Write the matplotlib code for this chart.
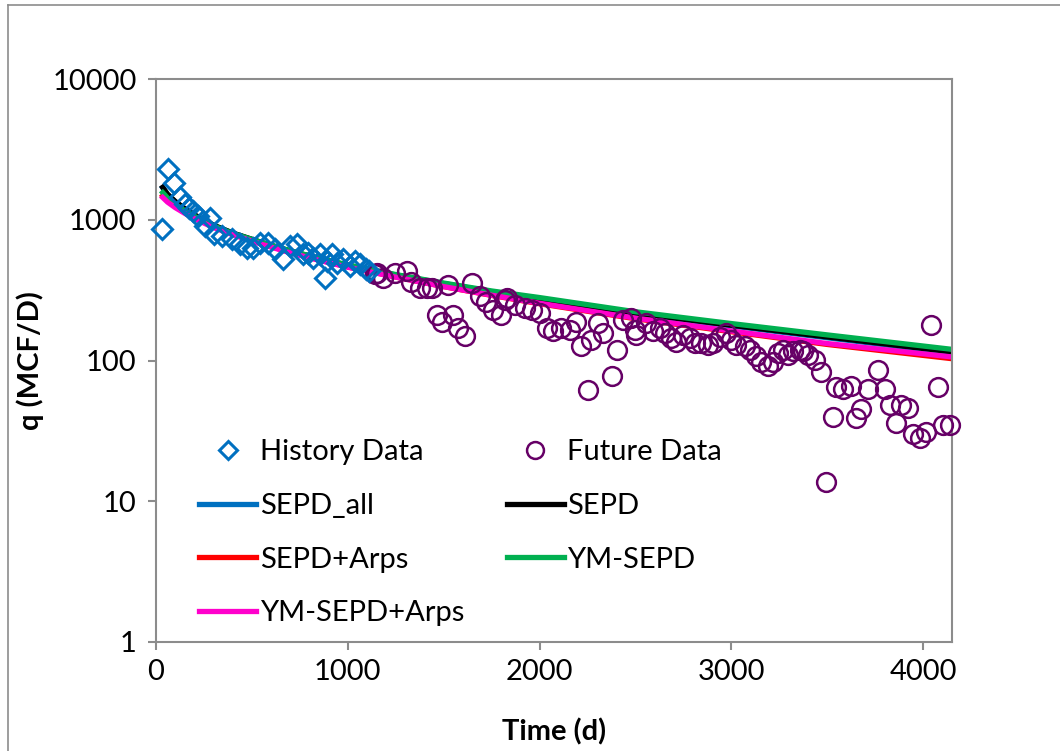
import matplotlib
matplotlib.use("Agg")
import matplotlib.pyplot as plt
from matplotlib.lines import Line2D

plt.rcParams["font.family"] = ["Lato", "DejaVu Sans"]

# === PRODUCTION DATA ===
hist_t = [30, 65, 94, 125, 151, 174, 195, 221, 255, 283, 300, 342, 395, 438, 473,
          507, 542, 586, 620, 663, 699, 733, 768, 794, 820, 855, 880, 890, 916,
          942, 976, 1011, 1037, 1063, 1095, 1110]
hist_q = [856, 2290, 1810, 1450, 1290, 1220, 1155, 1065, 905, 1035, 788, 767, 726, 669, 634,
          634, 688, 688, 617, 524, 651, 669, 568, 584, 538, 568, 388, 509, 568,
          496, 524, 469, 509, 482, 450, 435]

fut_t = [1141, 1150, 1185, 1245, 1306, 1332, 1376, 1411, 1437, 1463, 1489, 1523, 1549,
         1575, 1610, 1645, 1688, 1723, 1758, 1801, 1819, 1828, 1871, 1923, 1958, 2001,
         2036, 2070, 2114, 2157, 2192, 2218, 2253, 2270, 2305, 2331, 2375, 2401, 2435,
         2479, 2496, 2505, 2557, 2591, 2626, 2652, 2687, 2713, 2748, 2783, 2809, 2844,
         2878, 2904, 2939, 2974, 3000, 3026, 3069, 3095, 3130, 3156, 3191, 3217, 3243,
         3269, 3295, 3321, 3356, 3373, 3399, 3434, 3469, 3495, 3529, 3547, 3581, 3625,
         3651, 3677, 3712, 3764, 3799, 3825, 3860, 3886, 3920, 3946, 3981, 4016, 4042,
         4077, 4103, 4138]
fut_q = [409, 417, 385, 417, 429, 364, 327, 327, 327, 211, 189, 345, 211,
         170, 150, 358, 285, 262, 229, 211, 270, 277, 248, 235, 229, 217,
         170, 161, 170, 165, 189, 126, 62, 140, 184, 156, 77, 119, 194,
         200, 165, 152, 184, 161, 170, 156, 144, 136, 152, 144, 133, 133,
         129, 133, 148, 156, 140, 129, 126, 119, 107, 98, 91, 98, 113,
         119, 110, 116, 119, 116, 110, 101, 83, 13.8, 40, 65, 63, 66,
         39, 45, 63, 86, 63, 48, 36, 48, 46, 30, 28, 31, 179,
         65, 35, 35]

# === MODEL CURVES ===
fit_t = [35, 60, 100, 150, 200, 300, 400, 550, 700, 850, 1000, 1250, 1500, 1750,
         2000, 2500, 3000, 3500, 4150]
sepd_all = [1690, 1510, 1345, 1195, 1080, 912, 802, 688, 598, 528, 473, 403, 350, 306,
            272, 215, 176, 145, 113]
sepd = [1700, 1520, 1350, 1200, 1085, 915, 805, 690, 600, 530, 475, 405, 352, 308,
        274, 217, 178, 147, 115]
sepd_arps = [1480, 1370, 1250, 1130, 1040, 890, 790, 676, 588, 518, 462, 392, 335, 290,
             253, 198, 160, 130, 103]
ym_sepd = [1560, 1430, 1290, 1160, 1060, 905, 800, 690, 602, 533, 478, 408, 355, 312,
           280, 222, 183, 152, 120]
ym_sepd_arps = [1440, 1335, 1220, 1110, 1020, 880, 782, 670, 582, 515, 460, 391, 335, 291,
                255, 200, 162, 132, 106]

# === PLOT ===
fig = plt.figure(figsize=(10.6, 7.51), dpi=100)
ax = fig.add_axes([156 / 1060, 1 - 642 / 751, (952 - 156) / 1060, (642 - 79) / 751])

lw = 3.8
l_all, = ax.plot(fit_t, sepd_all, color="#0070C0", lw=lw, label="SEPD_all", zorder=2)
l_sepd, = ax.plot(fit_t, sepd, color="black", lw=lw, label="SEPD", zorder=2)
l_arps, = ax.plot(fit_t, sepd_arps, color="#FF0000", lw=lw, label="SEPD+Arps", zorder=2)
l_ym, = ax.plot(fit_t, ym_sepd, color="#00B050", lw=lw, label="YM-SEPD", zorder=2)
l_ymarps, = ax.plot(fit_t, ym_sepd_arps, color="#FF00CC", lw=lw, label="YM-SEPD+Arps", zorder=2)

h_hist, = ax.plot(hist_t, hist_q, ls="none", marker="D", ms=10.5, mfc="none", mec="#0070C0",
                  mew=2.2, label="History Data", zorder=4, clip_on=False)
h_fut, = ax.plot(fut_t, fut_q, ls="none", marker="o", ms=13.5, mfc="none", mec="#660066",
                 mew=1.8, label="Future Data", zorder=3, clip_on=False)

ax.set_yscale("log")
ax.set_ylim(1, 10000)
ax.set_xlim(0, 4150)
ax.set_yticks([1, 10, 100, 1000, 10000])
ax.set_yticklabels(["1", "10", "100", "1000", "10000"])
ax.set_xticks([0, 1000, 2000, 3000, 4000])
ax.set_xticklabels(["0", "1000", "2000", "3000", "4000"])
ax.yaxis.set_minor_locator(matplotlib.ticker.NullLocator())

for s in ax.spines.values():
    s.set_color("#8C8C8C")
    s.set_linewidth(1.5)
ax.tick_params(axis="both", direction="out", length=6, width=1.5, color="#8C8C8C",
               labelsize=21, labelcolor="black")
ax.tick_params(axis="y", pad=8)
ax.tick_params(axis="x", pad=6)

ax.set_xlabel("Time (d)", fontsize=21, fontweight="bold", labelpad=24)
ax.set_ylabel("q (MCF/D)", fontsize=21, fontweight="bold", labelpad=6)

# legend laid out row by row: two columns
handles = [h_hist, l_all, l_arps, l_ymarps, h_fut, l_sepd, l_ym]
ax.legend(handles=handles, labels=[h.get_label() for h in handles], ncol=2,
          loc="upper left", bbox_to_anchor=(0.036, 0.386), frameon=False,
          fontsize=21, borderpad=0, labelspacing=0.95, handlelength=1.95,
          handletextpad=0.12, columnspacing=1.47, markerscale=0.9)

# outer chart border
fig.add_artist(Line2D([8 / 1060, 8 / 1060], [0, 1 - 5 / 751], transform=fig.transFigure,
                      color="#8C8C8C", lw=1.2))
fig.add_artist(Line2D([8 / 1060, 1], [1 - 5 / 751, 1 - 5 / 751], transform=fig.transFigure,
                      color="#8C8C8C", lw=1.2))

fig.savefig("out.png", dpi=100)
plt.close(fig)
